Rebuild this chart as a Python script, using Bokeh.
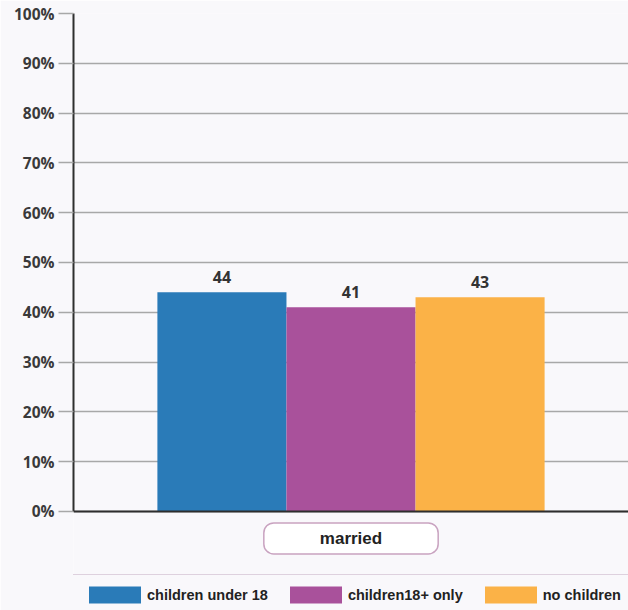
from bokeh.plotting import figure
from bokeh.models import (FactorRange, Range1d, FixedTicker, PrintfTickFormatter,
                          Span, Legend, LegendItem, ColumnDataSource)
from bokeh.core.properties import value
from bokeh.embed import file_html
from bokeh.resources import INLINE

# ---- data ----
category = "married"
series = ["children under 18", "children18+ only", "no children"]
values = [44, 41, 43]
colors = ["#2a7bb8", "#a9519b", "#fbb247"]
y_ticks = [0, 10, 20, 30, 40, 50, 60, 70, 80, 90, 100]

BG = "#f9f8fb"
DARK = "#2e2e2e"
GRID = "#a8a8a8"

p = figure(width=628, height=610,
           x_range=FactorRange(factors=series, range_padding=0.65,
                               range_padding_units="absolute"),
           y_range=Range1d(-19.9, 100),
           x_axis_location=None, y_axis_location="left",
           output_backend="svg", toolbar_location=None,
           min_border_left=73, min_border_right=0,
           min_border_top=13, min_border_bottom=0,
           background_fill_color=BG, border_fill_color=BG)
p.outline_line_color = None
p.xgrid.visible = False

# y axis
ax = p.yaxis[0]
ax.ticker = FixedTicker(ticks=y_ticks)
ax.formatter = PrintfTickFormatter(format="%d%%")
ax.bounds = (0, 100)
ax.axis_line_color = DARK
ax.axis_line_width = 2
ax.major_tick_in = 0
ax.major_tick_out = 15
ax.major_tick_line_color = GRID
ax.major_tick_line_width = 1.5
ax.minor_tick_line_color = None
ax.major_label_standoff = 4
ax.major_label_text_font = "Open Sans"
ax.major_label_text_font_style = "bold"
ax.major_label_text_font_size = "15.5px"
ax.major_label_text_color = "#3a3a3a"

p.ygrid.ticker = FixedTicker(ticks=y_ticks)
p.ygrid.grid_line_color = GRID
p.ygrid.grid_line_width = 1.5

# bars
src = ColumnDataSource(dict(series=series, values=values, colors=colors,
                            labels=[str(v) for v in values]))
bars = p.vbar(x="series", top="values", width=1.0, bottom=0, source=src,
              fill_color="colors", line_color=None)

# value labels
p.text(x="series", y="values", text="labels", source=src,
       y_offset=-9, text_align="center", text_baseline="bottom",
       text_font=value("Open Sans"), text_font_style="bold",
       text_font_size="16px", text_color="#333333")

# baseline
p.add_layout(Span(location=0, dimension="width", line_color=DARK, line_width=2))

# category label with rounded box
p.text(x=[series[1]], y=[0], text=[category], y_offset=27,
       text_align="center", text_baseline="middle",
       text_font=value("Liberation Sans"), text_font_style="bold",
       text_font_size="17px", text_color="#222222",
       padding=(56, 6), border_radius=10,
       border_line_color="#c9a3c0", border_line_width=1.5,
       background_fill_color="#ffffff")

# legend
items = [LegendItem(label=s, renderers=[bars], index=i) for i, s in enumerate(series)]
legend = Legend(items=items, orientation="horizontal", location=(-1, -5),
                glyph_width=65, glyph_height=21, label_height=21,
                label_standoff=0, spacing=15, padding=9, margin=0,
                border_line_color="#c4a9c2", border_line_width=1.5,
                background_fill_color=BG, background_fill_alpha=1.0,
                label_text_font="Liberation Sans", label_text_font_style="bold",
                label_text_font_size="14.5px", label_text_color="#222222")
p.add_layout(legend)

open("out.html", "w").write(file_html(p, INLINE))
